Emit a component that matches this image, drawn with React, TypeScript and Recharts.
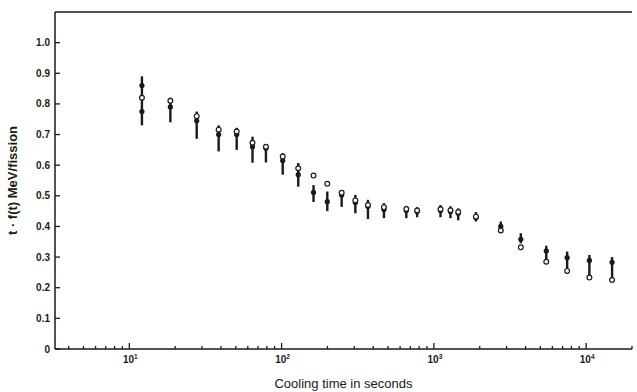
import React from "react";
import { ScatterChart, Scatter, XAxis, YAxis, ErrorBar, ReferenceLine } from "recharts";

const times = [12.1, 18.6, 27.7, 38.6, 50.7, 64.4, 78.9, 101.7, 128.6, 162, 199.5, 248, 305, 369, 470, 659, 776, 1105, 1285, 1445, 1888, 2750, 3723, 5470, 7500, 10500, 14800];
const highs = [0.89, 0.82, 0.775, 0.73, 0.722, 0.693, 0.667, 0.639, 0.607, 0.535, 0.514, 0.517, 0.503, 0.487, 0.476, 0.467, 0.463, 0.47, 0.466, 0.459, 0.447, 0.416, 0.378, 0.337, 0.318, 0.307, 0.3];
const lows = [0.73, 0.74, 0.686, 0.645, 0.65, 0.608, 0.609, 0.569, 0.53, 0.48, 0.45, 0.464, 0.443, 0.424, 0.427, 0.427, 0.43, 0.43, 0.427, 0.42, 0.416, 0.38, 0.345, 0.285, 0.255, 0.233, 0.225];
const filledVals = [0.86, 0.79, 0.745, 0.7, 0.7, 0.66, 0.655, 0.615, 0.569, 0.511, 0.481, 0.503, 0.478, 0.465, 0.455, 0.452, 0.449, 0.452, 0.449, 0.443, 0.429, 0.4, 0.358, 0.32, 0.298, 0.289, 0.283];
const openVals = [0.82, 0.81, 0.76, 0.716, 0.71, 0.673, 0.66, 0.628, 0.59, 0.566, 0.539, 0.51, 0.485, 0.47, 0.463, 0.457, 0.452, 0.456, 0.453, 0.447, 0.432, 0.387, 0.332, 0.285, 0.255, 0.233, 0.225];
const extraFilled = [{ t: 12.1, v: 0.775 }];

const yTicks = [0, 0.1, 0.2, 0.3, 0.4, 0.5, 0.6, 0.7, 0.8, 0.9, 1.0];
const decades = [10, 100, 1000, 10000];
const xTicks = [4, 5, 6, 7, 8, 9, 10, 20, 30, 40, 50, 60, 70, 80, 90, 100, 200, 300, 400, 500, 600, 700, 800, 900, 1000, 2000, 3000, 4000, 5000, 6000, 7000, 8000, 9000, 10000, 20000];

const filledData = times.map((t, i) => ({ t, v: filledVals[i], err: [filledVals[i] - lows[i], highs[i] - filledVals[i]] }));
const openData = times.map((t, i) => ({ t, v: openVals[i] }));

const INK = "#1a1a1a";
const FONT = "Liberation Sans, Arial, sans-serif";

const XTick = (props: any) => {
  const { x, y, payload } = props;
  const val = payload.value;
  const isMajor = decades.includes(val);
  const exp = Math.round(Math.log10(val));
  return (
    <g>
      <line x1={x} x2={x} y1={y} y2={y - (isMajor ? 6 : 3)} stroke={INK} strokeWidth={1.3} />
      {isMajor && (
        <text x={x + 1} y={y + 14} textAnchor="middle" fontSize={10} fontFamily={FONT} fill={INK} fontWeight="bold">
          <tspan>10</tspan>
          <tspan dy={-4} fontSize={6.5}>{exp}</tspan>
        </text>
      )}
    </g>
  );
};

const YTick = (props: any) => {
  const { x, y, payload } = props;
  const v = payload.value;
  const label = v === 0 ? "0" : v.toFixed(1);
  return (
    <g>
      <line x1={x} x2={x + 5} y1={y} y2={y} stroke={INK} strokeWidth={1.3} />
      <text x={x - 5} y={y + 3.5} textAnchor="end" fontSize={10} fontFamily={FONT} fill={INK} fontWeight="bold">
        {label}
      </text>
    </g>
  );
};

const FilledDot = (props: any) => <circle cx={props.cx} cy={props.cy} r={2.6} fill={INK} />;
const OpenDot = (props: any) => <circle cx={props.cx} cy={props.cy} r={2.4} fill="#fff" stroke={INK} strokeWidth={1.2} />;

export default function App() {
  return (
    <div style={{ position: "absolute", left: 0, top: 0, background: "#fff" }}>
      <ScatterChart width={637} height={392} margin={{ top: 12, right: 5, bottom: 0, left: 0 }}>
        <XAxis
          type="number"
          dataKey="t"
          scale="log"
          domain={[3.25, 20000]}
          ticks={xTicks}
          allowDataOverflow
          height={43}
          tickSize={0}
          tickMargin={0}
          tickLine={false}
          axisLine={{ stroke: INK, strokeWidth: 1.5 }}
          tick={<XTick />}
          interval={0}
          label={{ value: "Cooling time in seconds", position: "insideBottom", offset: 4, fill: INK, fontSize: 13, fontFamily: FONT }}
        />
        <YAxis
          type="number"
          dataKey="v"
          domain={[0, 1.1]}
          ticks={yTicks}
          width={55}
          tickSize={0}
          tickMargin={0}
          tickLine={false}
          axisLine={{ stroke: INK, strokeWidth: 1.5 }}
          tick={<YTick />}
          interval={0}
          label={{ value: "t · f(t)  MeV/fission", angle: -90, position: "insideLeft", offset: 12, textAnchor: "middle", fill: INK, fontSize: 13, fontFamily: FONT, fontWeight: "bold" }}
        />
        <ReferenceLine y={1.1} stroke={INK} strokeWidth={1.5} ifOverflow="visible" />
        <Scatter data={filledData} isAnimationActive={false} shape={<FilledDot />}>
          <ErrorBar dataKey="err" direction="y" width={0} stroke={INK} strokeWidth={2.4} />
        </Scatter>
        <Scatter data={openData} isAnimationActive={false} shape={<OpenDot />} />
        <Scatter data={extraFilled} isAnimationActive={false} shape={<FilledDot />} />
      </ScatterChart>
    </div>
  );
}
